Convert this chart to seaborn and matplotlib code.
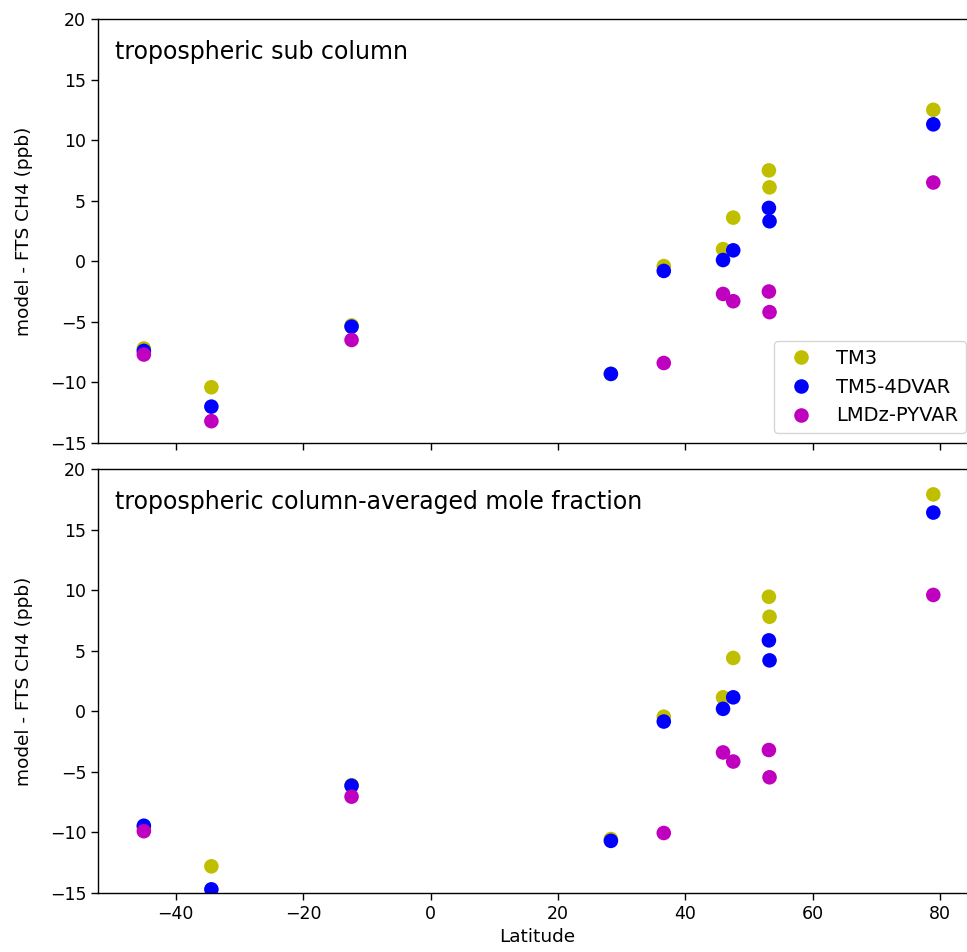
import numpy as np
import pandas as pd
import seaborn as sns
import matplotlib
matplotlib.use("Agg")
import matplotlib.pyplot as plt

# station latitudes
latitude = [-45.0, -34.4, -12.4, 28.3, 36.6, 45.9, 47.5, 53.1, 53.2, 78.9]

models = ["TM3", "TM5-4DVAR", "LMDz-PYVAR"]
colors = ["#bfbf00", "#0000ff", "#bf00bf"]

# tropospheric sub column, model - FTS (ppb)
sub_tm3 = [-7.2, -10.4, -5.3, -9.3, -0.4, 1.0, 3.6, 7.5, 6.1, 12.5]
sub_tm5 = [-7.4, -12.0, -5.4, -9.3, -0.8, 0.1, 0.9, 4.4, 3.3, 11.3]
sub_lmdz = [-7.7, -13.2, -6.5, np.nan, -8.4, -2.7, -3.3, -2.5, -4.2, 6.5]

# tropospheric column-averaged mole fraction, model - FTS (ppb)
avg_tm3 = [-9.6, -12.8, -6.1, -10.55, -0.45, 1.15, 4.4, 9.45, 7.8, 17.9]
avg_tm5 = [-9.45, -14.7, -6.15, -10.7, -0.85, 0.2, 1.15, 5.85, 4.2, 16.4]
avg_lmdz = [-9.9, -16.3, -7.05, np.nan, -10.05, -3.4, -4.15, -3.2, -5.45, 9.6]


def long_form(series):
    rows = []
    for name, vals in zip(models, series):
        for lat, v in zip(latitude, vals):
            rows.append({"Latitude": lat, "diff": v, "model": name})
    return pd.DataFrame(rows).dropna()


df_sub = long_form([sub_tm3, sub_tm5, sub_lmdz])
df_avg = long_form([avg_tm3, avg_tm5, avg_lmdz])

sns.set_style("ticks")
plt.rcParams["font.family"] = ["DejaVu Sans"]
plt.rcParams["text.color"] = "black"
plt.rcParams["axes.labelcolor"] = "black"
plt.rcParams["xtick.color"] = "black"
plt.rcParams["ytick.color"] = "black"

fig = plt.figure(figsize=(9.67, 9.52), dpi=100)
ax1 = fig.add_axes([0.1013, 0.5347, 0.908, 0.4454])
ax2 = fig.add_axes([0.1013, 0.0620, 0.908, 0.4454])

panels = [(ax1, df_sub, "tropospheric sub column"),
          (ax2, df_avg, "tropospheric column-averaged mole fraction")]

for ax, df, title in panels:
    sns.scatterplot(data=df, x="Latitude", y="diff", hue="model",
                    hue_order=models, palette=colors, s=110,
                    linewidth=0, edgecolor="none", ax=ax)
    ax.set_xlim(-52.2, 85.6)
    ax.set_ylim(-15, 20)
    ax.set_yticks(range(-15, 21, 5))
    ax.set_xticks(range(-40, 81, 20))
    ax.set_ylabel("model - FTS CH4 (ppb)", fontsize=13.3, labelpad=12)
    ax.tick_params(labelsize=12.5, length=5, width=1, color="black")
    for sp in ax.spines.values():
        sp.set_color("black")
        sp.set_linewidth(1)
    ax.text(0.019, 0.922, title, transform=ax.transAxes, fontsize=17,
            va="center", ha="left")

ax1.set_xlabel("")
ax1.set_xticklabels([])
ax2.set_xlabel("Latitude", fontsize=13.3)

leg = ax1.legend(loc="lower right", fontsize=14, frameon=True,
                 markerscale=1.0)
leg.get_frame().set_edgecolor("#cccccc")
ax2.get_legend().remove()

fig.savefig("out.png", dpi=100)
